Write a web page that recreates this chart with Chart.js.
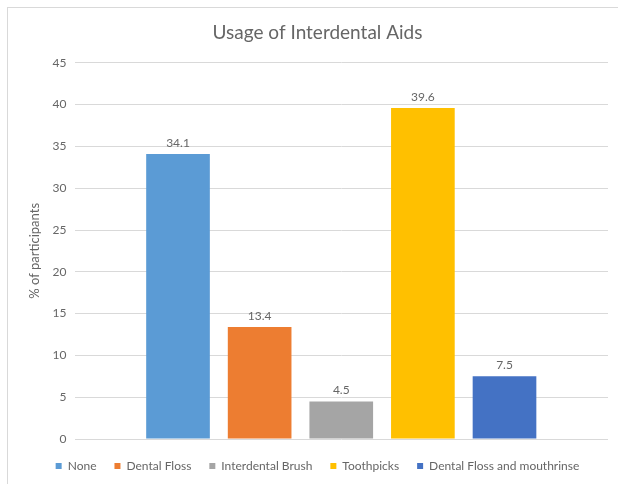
<!DOCTYPE html>
<html>
<head>
<meta charset="utf-8">
<script src="https://cdn.jsdelivr.net/npm/chart.js@4"></script>
<style>
  html, body { margin: 0; padding: 0; background: #fff; }
  #chartArea { position: relative; width: 618px; height: 484px; }
  #frame { position: absolute; left: 7px; top: 7px; width: 640px; height: 500px;
           border: 1px solid #d9d9d9; pointer-events: none; }
</style>
</head>
<body>
<div id="chartArea">
  <canvas id="myChart"></canvas>
  <div id="frame"></div>
</div>
<script>
const categories = ["None", "Dental Floss", "Interdental Brush", "Toothpicks", "Dental Floss and mouthrinse"];
const values = [34.1, 13.4, 4.5, 39.6, 7.5];
const colors = ["#5b9bd5", "#ed7d31", "#a5a5a5", "#ffc000", "#4472c4"];
const yTicks = [0, 5, 10, 15, 20, 25, 30, 35, 40, 45];

const textColor = "#666666";
Chart.defaults.font.family = "Lato, 'Open Sans', sans-serif";

// 棒の上に値を描く
const valueLabels = {
  id: "valueLabels",
  afterDatasetsDraw(chart) {
    const c = chart.ctx;
    c.save();
    c.font = "12px Lato, sans-serif";
    c.fillStyle = textColor;
    c.textAlign = "center";
    c.textBaseline = "middle";
    chart.data.datasets.forEach((ds, i) => {
      const bar = chart.getDatasetMeta(i).data[0];
      c.fillText(ds.data[0].toFixed(1), bar.x, bar.y - 11);
    });
    c.restore();
  }
};

const ctx = document.getElementById("myChart").getContext("2d");
window.myChart = new Chart(ctx, {
  type: "bar",
  data: {
    labels: [""],
    datasets: categories.map((name, i) => ({
      label: name,
      data: [values[i]],
      backgroundColor: colors[i],
      borderWidth: 0,
      categoryPercentage: 0.765,
      barPercentage: 0.78
    }))
  },
  options: {
    responsive: true,
    maintainAspectRatio: false,
    animation: false,
    layout: { padding: { left: 27, right: 10, top: 21, bottom: 2 } },
    scales: {
      x: {
        grid: { display: false },
        border: { display: false },
        ticks: { display: false },
        afterFit(axis) { axis.height = 3; }
      },
      y: {
        min: 0,
        max: 45,
        afterBuildTicks(axis) {
          axis.ticks = yTicks.map(v => ({ value: v }));
        },
        grid: { color: "#d9d9d9", drawTicks: false },
        border: { display: false },
        ticks: { color: textColor, font: { size: 12 }, padding: 8 },
        title: { display: true, text: "% of participants", color: textColor, font: { size: 13 }, padding: { top: 0, bottom: 2 } }
      }
    },
    plugins: {
      title: {
        display: true,
        text: "Usage of Interdental Aids",
        color: textColor,
        font: { size: 19, weight: "normal" },
        padding: { top: 0, bottom: 19 }
      },
      legend: {
        position: "bottom",
        labels: { color: textColor, font: { size: 12 }, boxWidth: 6, boxHeight: 6, padding: 18 }
      },
      tooltip: { enabled: false }
    }
  },
  plugins: [valueLabels]
});
</script>
</body>
</html>
